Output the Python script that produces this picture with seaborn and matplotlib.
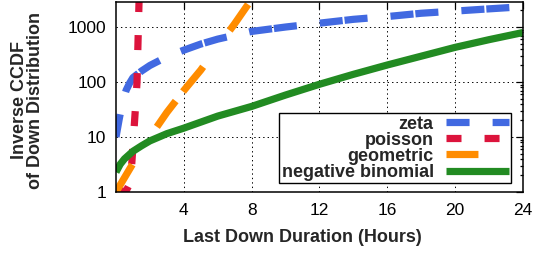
import numpy as np
import pandas as pd
import seaborn as sns
import matplotlib.pyplot as plt
from matplotlib.lines import Line2D
from matplotlib.ticker import LogLocator, NullFormatter

# values: hours vs inverse CCDF
zeta_x = [0, 0.2, 0.4, 0.6, 0.8, 1, 1.5, 2, 3, 4, 5, 6, 8, 10, 12, 14, 16, 18, 20, 22, 24]
zeta_y = [10, 22, 45, 71, 95, 120, 158, 200, 288, 380, 490, 603, 832, 1000, 1175, 1380, 1550, 1780, 1950, 2140, 2340]

poisson_x = [0, 0.6, 0.85, 0.95, 1.05, 1.15, 1.24, 1.3, 1.36, 1.42]
poisson_y = [1, 1.05, 1.5, 4, 12, 35, 100, 560, 3000, 10000]

geometric_x = [0, 1, 2, 3, 4, 5, 6, 7, 8]
geometric_y = [1, 3.3, 10, 28, 70, 165, 440, 1150, 3200]

negbin_x = [0, 0.25, 0.5, 1, 1.5, 2, 3, 4, 6, 8, 10, 12, 14, 16, 18, 20, 22, 24]
negbin_y = [2.3, 3.2, 4.0, 5.5, 6.9, 8.5, 11.5, 14.5, 24, 36, 58, 91, 138, 204, 295, 427, 589, 794]

dists = ["zeta", "poisson", "geometric", "negative binomial"]
xticks = [4, 8, 12, 16, 20, 24]
yticks = [1, 10, 100, 1000]
ytick_labels = ["1", "10", "100", "1000"]

colors = {"zeta": "#4169E1", "poisson": "#DC143C",
          "geometric": "#FF8C00", "negative binomial": "#228B22"}
# dash patterns in points (lines.scale_dashes off)
dash_styles = {"zeta": (16.6, 16.6, 16.6, 1.4), "poisson": (10.8, 16.6),
               "geometric": (23, 32.4, 23, 8.6), "negative binomial": ""}

frames = []
for name, xs, ys in zip(dists, [zeta_x, poisson_x, geometric_x, negbin_x],
                        [zeta_y, poisson_y, geometric_y, negbin_y]):
    frames.append(pd.DataFrame({"hours": xs, "ccdf": ys, "dist": name}))
df = pd.concat(frames, ignore_index=True)

sns.set_theme(style="white")
plt.rcParams["font.family"] = ["Liberation Sans", "DejaVu Sans"]
plt.rcParams["lines.scale_dashes"] = False
plt.rcParams["lines.solid_capstyle"] = "butt"
plt.rcParams["lines.dash_capstyle"] = "butt"

fig = plt.figure(figsize=(5.36, 2.54), dpi=100)
ax = fig.add_axes([0.2164, 0.2441, 0.7593, 0.748])

sns.lineplot(data=df, x="hours", y="ccdf", hue="dist", style="dist",
             hue_order=dists, style_order=dists, palette=colors,
             dashes=dash_styles, linewidth=5.2, estimator=None, sort=False,
             legend=False, ax=ax)

ax.set_yscale("log")
ax.set_xlim(0, 24)
ax.set_ylim(1, 2850)
ax.set_xticks(xticks)
ax.set_yticks(yticks, labels=ytick_labels)
ax.yaxis.set_minor_locator(LogLocator(base=10, subs=np.arange(2, 10)))
ax.yaxis.set_minor_formatter(NullFormatter())

for v in xticks[:-1]:
    ax.axvline(v, color="black", lw=0.7, ls=(0, (1, 2.2)), zorder=0)
for v in yticks[1:]:
    ax.axhline(v, color="black", lw=0.7, ls=(0, (1, 2.2)), zorder=0)

ax.tick_params(axis="both", which="both", direction="in", top=True, right=True,
               labelsize=12.5, colors="black", width=0.9)
ax.tick_params(axis="both", which="major", length=5)
ax.tick_params(axis="y", which="minor", length=2.5)
ax.tick_params(axis="x", which="major", pad=8)
ax.tick_params(axis="y", which="major", pad=7)
for s in ax.spines.values():
    s.set_color("black")
    s.set_linewidth(1.1)

ax.set_xlabel("Last Down Duration (Hours)", fontsize=13, fontweight="bold", va="center")
ax.xaxis.set_label_coords(0.457, -0.237)
ax.set_ylabel("Inverse CCDF\nof Down Distribution", fontsize=13, fontweight="bold",
              va="center", linespacing=0.95)
ax.yaxis.set_label_coords(-0.218, 0.484)

handles = []
for name in dists:
    h = Line2D([], [], color=colors[name], lw=5.2)
    if dash_styles[name]:
        h.set_dashes(dash_styles[name])
    handles.append(h)
leg = ax.legend(handles, dists, loc="lower right", bbox_to_anchor=(0.9705, 0.047),
                markerfirst=False, prop={"weight": "bold", "size": 13},
                handlelength=3.5, handletextpad=0.66, labelspacing=-0.05,
                borderpad=0.12, borderaxespad=0, fancybox=False, framealpha=1,
                edgecolor="black")
leg.get_frame().set_linewidth(1.0)

fig.savefig("out.png", dpi=100)
